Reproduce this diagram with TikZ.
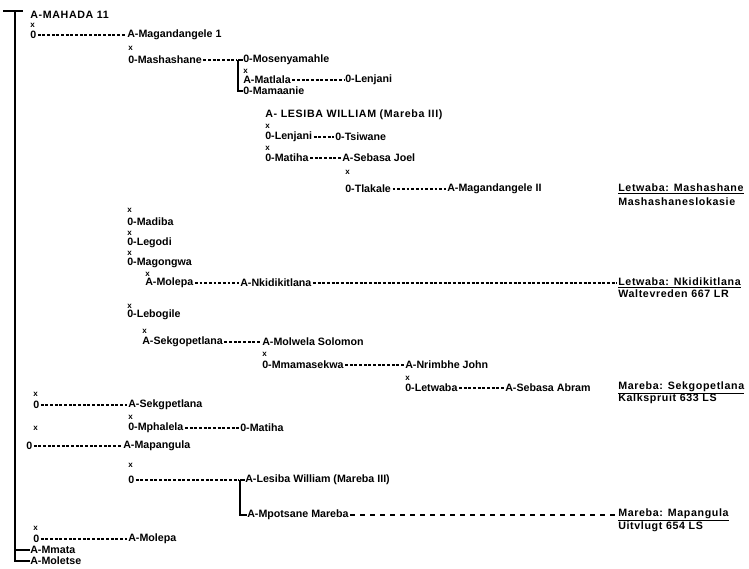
\documentclass[tikz,border=0pt]{standalone}
\usepackage{fontspec}
\setmainfont{Liberation Sans}
\newfontfamily\spaced[LetterSpace=6]{Liberation Sans}

\begin{document}
\begin{tikzpicture}[x=0.75pt,y=-0.75pt,
    nm/.style={anchor=west,inner sep=0pt,font=\bfseries\fontsize{8}{9}\selectfont},
    caps/.style={anchor=west,inner sep=0pt,font=\spaced\bfseries\fontsize{8}{9}\selectfont},
    wed/.style={anchor=west,inner sep=0pt,font=\bfseries\fontsize{6}{7}\selectfont},
    farm/.style={anchor=west,inner sep=0pt,font=\spaced\bfseries\fontsize{8}{9}\selectfont},
    typed line/.style={dash pattern=on 2.2pt off 1.3pt,line width=0.8pt,shorten <=1pt,shorten >=1pt},
    spaced line/.style={dash pattern=on 3.5pt off 4pt,line width=0.8pt,shorten <=1pt,shorten >=1pt},
    tree/.style={line width=1.2pt}]
    \useasboundingbox (0,0) rectangle (749,568);
    \coordinate (root) at (15,11);
    \coordinate (fork1) at (238,60);
    \coordinate (fork2) at (240,480);
    \node[caps] (mahada) at (30,15) {A-MAHADA 11};
    \node[wed] at (30,25) {x};
    \node[nm] (o1) at (30,35) {0};
    \node[nm] (magandangele) at (127,35) {A-Magandangele 1};
    \node[wed] at (128,48) {x};
    \node[nm] (mashashane) at (128,60) {0-Mashashane};
    \node[nm] (mosenyamahle) at (243,60) {0-Mosenyamahle};
    \node[wed] at (243,71) {x};
    \node[nm] (matlala) at (243,80) {A-Matlala};
    \node[nm] (lenjani) at (345,80) {0-Lenjani};
    \node[nm] (mamaanie) at (243,91) {0-Mamaanie};
    \node[caps] (lesiba) at (265,115) {A- LESIBA WILLIAM (Mareba III)};
    \node[wed] at (265,126) {x};
    \node[nm] (lenjaniB) at (265,137) {0-Lenjani};
    \node[nm] (tsiwane) at (335,137) {0-Tsiwane};
    \node[wed] at (265,148) {x};
    \node[nm] (matiha) at (265,158) {0-Matiha};
    \node[nm] (sebasaJ) at (342,158) {A-Sebasa Joel};
    \node[wed] at (345,172) {x};
    \node[nm] (tlakale) at (345,189) {0-Tlakale};
    \node[nm] (magandangeleB) at (447,189) {A-Magandangele II};
    \node[farm] (mashFarm) at (618,189) {\underline{Letwaba: Mashashane}};
    \node[farm] at (618,202) {Mashashaneslokasie};
    \node[wed] at (127,210) {x};
    \node[nm] (madiba) at (127,222) {0-Madiba};
    \node[wed] at (127,233) {x};
    \node[nm] (legodi) at (127,243) {0-Legodi};
    \node[wed] at (127,253) {x};
    \node[nm] (magongwa) at (127,263) {0-Magongwa};
    \node[wed] at (145,274) {x};
    \node[nm] (molepa) at (145,283) {A-Molepa};
    \node[nm] (nkidikitlana) at (240,283) {A-Nkidikitlana};
    \node[farm] (nkidiFarm) at (618,283) {\underline{Letwaba: Nkidikitlana}};
    \node[farm] at (618,294) {Waltevreden 667 LR};
    \node[wed] at (127,306) {x};
    \node[nm] (lebogile) at (127,315) {0-Lebogile};
    \node[wed] at (142,331) {x};
    \node[nm] (sekgopetlana) at (142,342) {A-Sekgopetlana};
    \node[nm] (molwela) at (262,342) {A-Molwela Solomon};
    \node[wed] at (262,354) {x};
    \node[nm] (mmamasekwa) at (262,365) {0-Mmamasekwa};
    \node[nm] (nrimbhe) at (405,365) {A-Nrimbhe John};
    \node[wed] at (405,378) {x};
    \node[nm] (letwaba) at (405,388) {0-Letwaba};
    \node[nm] (sebasaA) at (505,388) {A-Sebasa Abram};
    \node[farm] (sekgoFarm) at (618,388) {\underline{Mareba: Sekgopetlana}};
    \node[farm] at (618,399) {Kalkspruit 633 LS};
    \node[wed] at (33,394) {x};
    \node[nm] (o2) at (33,405) {0};
    \node[nm] (sekgopetlanaB) at (128,405) {A-Sekgpetlana};
    \node[wed] at (128,417) {x};
    \node[wed] at (33,428) {x};
    \node[nm] (mphalela) at (128,428) {0-Mphalela};
    \node[nm] (matihaB) at (240,428) {0-Matiha};
    \node[nm] (o3) at (26,446) {0};
    \node[nm] (mapangula) at (123,446) {A-Mapangula};
    \node[wed] at (128,465) {x};
    \node[nm] (o4) at (128,480) {0};
    \node[nm] (lesibaB) at (245,480) {A-Lesiba William (Mareba III)};
    \node[nm] (mpotsane) at (247,515) {A-Mpotsane Mareba};
    \node[farm] (mapFarm) at (618,515) {\underline{Mareba: Mapangula}};
    \node[farm] at (618,527) {Uitvlugt 654 LS};
    \node[wed] at (33,528) {x};
    \node[nm] (o5) at (33,539) {0};
    \node[nm] (molepaB) at (128,539) {A-Molepa};
    \node[nm] (mmata) at (30,550) {A-Mmata};
    \node[nm] (moletse) at (30,561) {A-Moletse};
    \draw[tree] ([xshift=-9pt]root) -- ([xshift=6pt]root);
    \draw[tree] (root) |- (moletse.west);
    \draw[tree] (root |- mmata) -- (mmata.west);
    \draw[tree] (fork1) -- (mosenyamahle.west);
    \draw[tree] (fork1) |- (mamaanie.west);
    \draw[tree] (fork2) -- (lesibaB.west);
    \draw[tree] (fork2) |- (mpotsane.west);
    \draw[typed line] (o1.east) -- (magandangele.west);
    \draw[typed line] (mashashane.east) -- (fork1);
    \draw[typed line] (matlala.east) -- (lenjani.west);
    \draw[typed line] (lenjaniB.east) -- (tsiwane.west);
    \draw[typed line] (matiha.east) -- (sebasaJ.west);
    \draw[typed line] (tlakale.east) -- (magandangeleB.west);
    \draw[typed line] (molepa.east) -- (nkidikitlana.west);
    \draw[typed line] (nkidikitlana.east) -- (nkidiFarm.west);
    \draw[typed line] (sekgopetlana.east) -- (molwela.west);
    \draw[typed line] (mmamasekwa.east) -- (nrimbhe.west);
    \draw[typed line] (letwaba.east) -- (sebasaA.west);
    \draw[typed line] (o2.east) -- (sekgopetlanaB.west);
    \draw[typed line] (mphalela.east) -- (matihaB.west);
    \draw[typed line] (o3.east) -- (mapangula.west);
    \draw[typed line] (o4.east) -- (fork2);
    \draw[spaced line] (mpotsane.east) -- (mapFarm.west);
    \draw[typed line] (o5.east) -- (molepaB.west);
\end{tikzpicture}
\end{document}
